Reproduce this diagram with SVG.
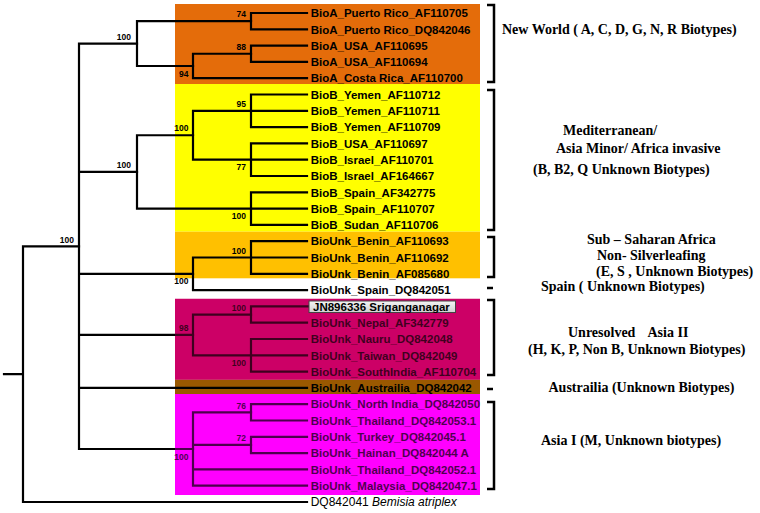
<svg xmlns="http://www.w3.org/2000/svg" width="760" height="513" viewBox="0 0 760 513">
<style>
.lf{font-family:"Liberation Sans",Arial,sans-serif;font-weight:bold;font-size:11.5px;fill:#000}
.og{font-family:"Liberation Sans",Arial,sans-serif;font-size:12px;fill:#000}
.bs{font-family:"Liberation Sans",Arial,sans-serif;font-weight:bold;font-size:8.5px;fill:#000;text-anchor:end}
.cl{font-family:"Liberation Serif","Times New Roman",serif;font-weight:bold;font-size:14px;fill:#000}
.br{fill:none;stroke:#000;stroke-width:2.5}
#connectors path{fill:none;stroke:#000;stroke-width:2.2;stroke-linecap:square}
</style>
<defs>
<linearGradient id="gb" x1="0" y1="0" x2="0" y2="1"><stop offset="0" stop-color="#f4f4f4"/><stop offset="1" stop-color="#d0d0d0"/></linearGradient>
</defs>
<rect width="760" height="513" fill="#fff"/>
<g id="clade-boxes">
<rect x="175" y="4" width="305" height="80" fill="#E46C0A"/>
<rect x="175" y="84" width="305" height="147.7" fill="#FFFF00"/>
<rect x="175" y="231.7" width="305" height="46.6" fill="#FFC000"/>
<rect x="175" y="298.8" width="305" height="81" fill="#CC0066"/>
<rect x="175" y="379.8" width="305" height="14.2" fill="#9A5800"/>
<rect x="175" y="394" width="305" height="101" fill="#FF00FF"/>
</g>
<g id="connectors">
<path d="M4,374.15H23M23,246.3V502M23,246.3H79M23,502H307"/>
<path d="M79,43.56V449M79,43.56H137M79,171.9H137M79,273.8H193M79,334.9H193M79,387.9H307M79,449H193"/>
<path d="M137,21.15V65.98M137,21.15H251M137,65.98H193"/>
<path d="M193,53.75V78.2M193,53.75H251M193,78.2H307"/>
<path d="M251,13V29.3M251,13H307M251,29.3H307"/>
<path d="M251,45.6V61.9M251,45.6H307M251,61.9H307"/>
<path d="M137,135.25V208.6M137,135.25H193M137,208.6H251"/>
<path d="M193,110.8V159.7M193,110.8H251M193,159.7H251"/>
<path d="M251,94.5V127.1M251,94.5H307M251,110.8H307M251,127.1H307"/>
<path d="M251,143.4V176M251,143.4H307M251,159.7H307M251,176H307"/>
<path d="M251,192.3V224.9M251,192.3H307M251,208.6H307M251,224.9H307"/>
<path d="M193,257.5V290.1M193,257.5H251M193,290.1H307"/>
<path d="M251,241.2V273.8M251,241.2H307M251,257.5H307M251,273.8H307"/>
<path d="M193,314.55V355.3M193,314.55H251M193,355.3H251"/>
<path d="M251,306.4V322.7M251,306.4H308M251,322.7H307"/>
<path d="M251,339V371.6M251,339H307M251,355.3H307M251,371.6H307"/>
<path d="M193,412.35V485.7M193,412.35H251M193,444.95H251M193,469.4H307M193,485.7H307"/>
<path d="M251,404.2V420.5M251,404.2H307M251,420.5H307"/>
<path d="M251,436.8V453.1M251,436.8H307M251,453.1H307"/>
</g>
<g id="leaves">
<g id="leaf1"><text class="lf" x="310.7" y="17.2">BioA_Puerto Rico_AF110705</text></g>
<g id="leaf2"><text class="lf" x="310.7" y="33.5">BioA_Puerto Rico_DQ842046</text></g>
<g id="leaf3"><text class="lf" x="310.7" y="49.8">BioA_USA_AF110695</text></g>
<g id="leaf4"><text class="lf" x="310.7" y="66.1">BioA_USA_AF110694</text></g>
<g id="leaf5"><text class="lf" x="310.7" y="82.4">BioA_Costa Rica_AF110700</text></g>
<g id="leaf6"><text class="lf" x="310.7" y="98.7">BioB_Yemen_AF110712</text></g>
<g id="leaf7"><text class="lf" x="310.7" y="115">BioB_Yemen_AF110711</text></g>
<g id="leaf8"><text class="lf" x="310.7" y="131.3">BioB_Yemen_AF110709</text></g>
<g id="leaf9"><text class="lf" x="310.7" y="147.6">BioB_USA_AF110697</text></g>
<g id="leaf10"><text class="lf" x="310.7" y="163.9">BioB_Israel_AF110701</text></g>
<g id="leaf11"><text class="lf" x="310.7" y="180.2">BioB_Israel_AF164667</text></g>
<g id="leaf12"><text class="lf" x="310.7" y="196.5">BioB_Spain_AF342775</text></g>
<g id="leaf13"><text class="lf" x="310.7" y="212.8">BioB_Spain_AF110707</text></g>
<g id="leaf14"><text class="lf" x="310.7" y="229.1">BioB_Sudan_AF110706</text></g>
<g id="leaf15"><text class="lf" x="310.7" y="245.4">BioUnk_Benin_AF110693</text></g>
<g id="leaf16"><text class="lf" x="310.7" y="261.7">BioUnk_Benin_AF110692</text></g>
<g id="leaf17"><text class="lf" x="310.7" y="278">BioUnk_Benin_AF085680</text></g>
<g id="leaf18"><text class="lf" x="310.7" y="294.3">BioUnk_Spain_DQ842051</text></g>
<g id="leaf20"><text class="lf" x="310.7" y="326.9">BioUnk_Nepal_AF342779</text></g>
<g id="leaf21"><text class="lf" x="310.7" y="343.2">BioUnk_Nauru_DQ842048</text></g>
<g id="leaf22"><text class="lf" x="310.7" y="359.5">BioUnk_Taiwan_DQ842049</text></g>
<g id="leaf23"><text class="lf" x="310.7" y="375.8">BioUnk_SouthIndia_AF110704</text></g>
<g id="leaf24"><text class="lf" x="310.7" y="392.1">BioUnk_Austrailia_DQ842042</text></g>
<g id="leaf25"><text class="lf" x="310.7" y="408.4">BioUnk_North India_DQ842050</text></g>
<g id="leaf26"><text class="lf" x="310.7" y="424.7">BioUnk_Thailand_DQ842053.1</text></g>
<g id="leaf27"><text class="lf" x="310.7" y="441">BioUnk_Turkey_DQ842045.1</text></g>
<g id="leaf28"><text class="lf" x="310.7" y="457.3">BioUnk_Hainan_DQ842044 A</text></g>
<g id="leaf29"><text class="lf" x="310.7" y="473.6">BioUnk_Thailand_DQ842052.1</text></g>
<g id="leaf30"><text class="lf" x="310.7" y="489.9">BioUnk_Malaysia_DQ842047.1</text></g>
<g id="leaf31"><text class="og" x="310.7" y="506.4">DQ842041 <tspan font-style="italic">Bemisia atriplex</tspan></text></g>
</g>
<g id="support">
<text class="bs" x="74" y="242.5">100</text>
<text class="bs" x="131" y="39.5">100</text>
<text class="bs" x="246" y="17">74</text>
<text class="bs" x="246" y="49.7">88</text>
<text class="bs" x="188.5" y="76.5">94</text>
<text class="bs" x="131" y="168">100</text>
<text class="bs" x="188.5" y="131">100</text>
<text class="bs" x="246" y="106.5">95</text>
<text class="bs" x="246" y="170">77</text>
<text class="bs" x="246" y="219">100</text>
<text class="bs" x="246" y="253.5">100</text>
<text class="bs" x="188.5" y="284.3">100</text>
<text class="bs" x="246" y="310.5">100</text>
<text class="bs" x="188.5" y="331">98</text>
<text class="bs" x="246" y="366">100</text>
<text class="bs" x="246" y="408.5">76</text>
<text class="bs" x="246" y="441">72</text>
<text class="bs" x="188.5" y="460">100</text>
</g>
<g id="tints">
<rect x="175" y="298.8" width="305" height="81" fill="#CC0066" opacity="0.3"/>
<rect x="175" y="394" width="305" height="101" fill="#FF00FF" opacity="0.3"/>
</g>
<g id="leaf19">
<rect x="309" y="301" width="146.5" height="11.5" fill="url(#gb)" stroke="#444" stroke-width="1"/>
<text class="lf" x="313" y="310.6">JN896336 Sriganganagar</text>
</g>
<g id="brackets">
<path class="br" d="M487,5H494V82H487"/>
<path class="br" d="M487,90H494V230H487"/>
<path class="br" d="M487,237H494V277H487"/>
<path class="br" d="M487,288H493"/>
<path class="br" d="M487,300H494V375H487"/>
<path class="br" d="M487,389H493"/>
<path class="br" d="M487,402H494V489H487"/>
</g>
<g id="group-labels">
<text class="cl" x="502" y="34">New World ( A, C, D, G, N, R Biotypes)</text>
<text class="cl" x="563" y="135">Mediterranean/</text>
<text class="cl" x="556" y="152.5">Asia Minor/ Africa invasive</text>
<text class="cl" x="533" y="173.5">(B, B2, Q Unknown Biotypes)</text>
<text class="cl" x="587" y="244">Sub – Saharan Africa</text>
<text class="cl" x="597" y="259.5">Non- Silverleafing</text>
<text class="cl" x="596" y="276">(E, S , Unknown Biotypes)</text>
<text class="cl" x="541" y="291">Spain ( Unknown Biotypes)</text>
<text class="cl" x="568" y="337">Unresolved<tspan x="647.5">Asia II</tspan></text>
<text class="cl" x="528" y="354">(H, K, P, Non B, Unknown Biotypes)</text>
<text class="cl" x="548.5" y="392">Austrailia (Unknown Biotypes)</text>
<text class="cl" x="541" y="445">Asia I (M, Unknown biotypes)</text>
</g>
</svg>
